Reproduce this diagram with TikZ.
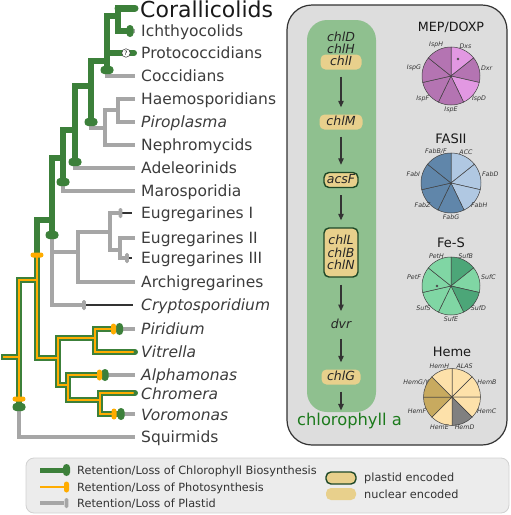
\documentclass[tikz,border=0pt]{standalone}
\usepackage{fontspec}
\setmainfont{DejaVu Sans}
\usetikzlibrary{arrows.meta}
\definecolor{treegreen}{RGB}{60,128,58}
\definecolor{photoorange}{RGB}{255,172,0}
\definecolor{plastgray}{RGB}{166,166,166}
\definecolor{panelgray}{RGB}{221,221,221}
\definecolor{legendgray}{RGB}{236,236,236}
\definecolor{pathgreen}{RGB}{143,192,143}
\definecolor{geneyellow}{RGB}{232,208,140}
\definecolor{genedark}{RGB}{30,72,40}
\definecolor{chlagreen}{RGB}{28,122,28}
\definecolor{taxtext}{RGB}{60,60,60}
\definecolor{mepmid}{RGB}{180,116,178}
\definecolor{meplight}{RGB}{226,152,226}
\definecolor{fasdark}{RGB}{96,134,170}
\definecolor{faslight}{RGB}{176,200,226}
\definecolor{fesdark}{RGB}{76,166,120}
\definecolor{feslight}{RGB}{128,214,164}
\definecolor{hemlight}{RGB}{253,225,170}
\definecolor{hemtan}{RGB}{200,170,95}
\definecolor{hemgray}{RGB}{128,128,128}
\newcommand{\TAXF}[0]{\fontsize{15.5}{18}\selectfont}
\newcommand{\GENEF}[0]{\itshape\fontsize{12.5}{13.5}\selectfont}

\begin{document}
\begin{tikzpicture}[x=1pt, y=-1pt,
  gbr/.style={draw=treegreen, line width=6pt, line cap=rect},
  obr/.style={draw=photoorange, line width=2.2pt, line cap=rect},
  pbr/.style={draw=plastgray, line width=4.5pt, line cap=rect},
  lostbr/.style={draw=black!80, line width=1.2pt},
  taxon/.style={anchor=west, inner sep=0pt, text=taxtext, text height=11.3pt, text depth=0pt, font=\TAXF},
  itaxon/.style={taxon, font=\itshape\TAXF},
  gene/.style={inner sep=1pt, text=black!85, text height=9pt, text depth=2.5pt, font=\GENEF},
  nucbox/.style={gene, fill=geneyellow, rounded corners=5pt, minimum width=41pt, minimum height=15pt},
  plabox/.style={nucbox, draw=genedark, line width=1.4pt, minimum width=34pt},
  patharrow/.style={draw=black!80, line width=1.1pt, -{Triangle[length=6.5pt, width=5.5pt]}, shorten <=7pt, shorten >=7pt},
  pietitle/.style={inner sep=0pt, text=black!90, font=\fontsize{13}{15}\selectfont},
  pielab/.style={inner sep=0.6pt, text=black!80, font=\itshape\fontsize{6.3}{7}\selectfont},
  pieline/.style={draw=black!75, line width=0.5pt},
  legtext/.style={anchor=west, inner sep=0pt, text=black!80, text height=8pt, text depth=0pt, font=\fontsize{11.3}{13}\selectfont}]

  \useasboundingbox (0,0) rectangle (511,515);

  \newcommand\GCapV[2]{\fill[treegreen, rounded corners=3.5pt] (#1,#2) +(-6.5,-4) rectangle +(6.5,4);}
  \newcommand\GCapH[2]{\fill[treegreen, rounded corners=3.5pt] (#1,#2) +(-3.5,-6) rectangle +(3.5,6);}
  \newcommand\OCapV[2]{\fill[photoorange, rounded corners=2.5pt] (#1,#2) +(-6.5,-2.5) rectangle +(6.5,2.5);}
  \newcommand\OCapH[2]{\fill[photoorange, rounded corners=2.5pt] (#1,#2) +(-2.5,-5.5) rectangle +(2.5,5.5);}
  \newcommand\PCapH[2]{\fill[plastgray, rounded corners=1.5pt] (#1,#2) +(-1.8,-5) rectangle +(1.8,5);}

  %% right panel
  \draw[fill=panelgray, draw=black!80, line width=1.2pt, rounded corners=25pt] (287,5) rectangle (507,445);
  \fill[pathgreen, rounded corners=20pt] (307,20) rectangle (376,412);

  %% plastid branches
  \draw[pbr] (19,407) -- (19,437) -- (133,437); % Squirmids
  \draw[pbr] (52,235) -- (52,305) -- (82,305);  % Cryptosporidium
  \draw[pbr] (52,252) -- (78,252);
  \draw[pbr] (78,232) -- (78,282) -- (133,282); % Archigregarines
  \draw[pbr] (78,232) -- (110,232);
  \draw[pbr] (110,213) -- (110,250);
  \draw[pbr] (110,213) -- (119,213);
  \draw[pbr] (110,250) -- (120,250);
  \draw[pbr] (120,238) -- (120,258);
  \draw[pbr] (120,238) -- (133,238);
  \draw[pbr] (120,258) -- (126,258);
  \draw[pbr] (63,182) -- (63,191) -- (133,191); % Marosporidia
  \draw[pbr] (75,162) -- (75,168) -- (133,168); % Adeleorinids
  \draw[pbr] (91,122) -- (91,128) -- (105,128);
  \draw[pbr] (105,110) -- (105,145) -- (133,145); % Nephromycids
  \draw[pbr] (105,110) -- (118,110);
  \draw[pbr] (118,99) -- (118,122);
  \draw[pbr] (118,99) -- (133,99);
  \draw[pbr] (118,122) -- (133,122);
  \draw[pbr] (107,70) -- (107,76) -- (133,76); % Coccidians
  \draw[pbr] (130,31) -- (133,31);
  \draw[pbr] (119,329) -- (133,329);
  \draw[pbr] (105,375) -- (133,375);
  \draw[pbr] (121,414) -- (133,414);

  \draw[lostbr] (84,305) -- (133,305);
  \draw[lostbr] (120,213) -- (132,213);
  \draw[lostbr] (127,258) -- (132,258);

  %% chlorophyll branches
  \draw[gbr] (4,357) -- (19,357);
  \draw[gbr] (19,280) -- (19,407);
  \draw[gbr] (19,280) -- (37,280);
  \draw[gbr] (37,220) -- (37,358);
  \draw[gbr] (37,358) -- (58,358);
  \draw[gbr] (58,338) -- (58,385);
  \draw[gbr] (58,338) -- (95,338);
  \draw[gbr] (95,329) -- (95,352);
  \draw[gbr] (95,329) -- (119,329);
  \draw[gbr, line cap=round] (95,352) -- (135,352); % Vitrella
  \draw[gbr] (58,385) -- (68,385);
  \draw[gbr] (68,375) -- (68,400);
  \draw[gbr] (68,375) -- (105,375);
  \draw[gbr] (68,400) -- (100,400);
  \draw[gbr] (100,393) -- (100,414);
  \draw[gbr, line cap=round] (100,393) -- (135,393); % Chromera
  \draw[gbr] (100,414) -- (121,414);

  \draw[gbr] (37,220) -- (52,220);
  \draw[gbr] (52,158) -- (52,235);
  \draw[gbr] (52,158) -- (63,158);
  \draw[gbr] (63,130) -- (63,182);
  \draw[gbr] (63,130) -- (75,130);
  \draw[gbr] (75,86) -- (75,162);
  \draw[gbr] (75,86) -- (91,86);
  \draw[gbr] (91,61) -- (91,122);
  \draw[gbr] (91,61) -- (107,61);
  \draw[gbr] (107,16) -- (107,70);
  \draw[gbr, line cap=round] (107,53) -- (134,53); % Protococcidians
  \draw[gbr] (107,16) -- (118,16);
  \draw[gbr] (118,8) -- (118,31);
  \draw[gbr] (118,31) -- (130,31);
  \draw[gbr, line width=7pt, line cap=round] (118,8) -- (135,8); % Corallicolids

  %% photosynthesis branches
  \draw[obr] (4,357) -- (19,357);
  \draw[obr] (19,280) -- (19,398);
  \draw[obr] (19,280) -- (37,280);
  \draw[obr] (37,255) -- (37,358);
  \draw[obr] (37,358) -- (58,358);
  \draw[obr] (58,338) -- (58,385);
  \draw[obr] (58,338) -- (95,338);
  \draw[obr] (95,329) -- (95,352);
  \draw[obr] (95,329) -- (113,329);
  \draw[obr, line cap=round] (95,352) -- (133,352);
  \draw[obr] (58,385) -- (68,385);
  \draw[obr] (68,375) -- (68,400);
  \draw[obr] (68,375) -- (99,375);
  \draw[obr] (68,400) -- (100,400);
  \draw[obr] (100,393) -- (100,414);
  \draw[obr, line cap=round] (100,393) -- (133,393);
  \draw[obr] (100,414) -- (113,414);

  %% retention / loss marks
  \GCapV{19}{407} \GCapV{52}{235} \GCapV{63}{182}
  \GCapV{75}{162} \GCapV{91}{122} \GCapV{107}{70}
  \GCapH{130}{31} \GCapH{119.5}{329} \GCapH{105}{375} \GCapH{121}{414}
  \OCapV{19}{399} \OCapV{37}{255}
  \OCapH{113.5}{329} \OCapH{99.5}{375} \OCapH{114}{414}
  \PCapH{84}{305} \PCapH{120.5}{213} \PCapH{127}{258}
  \node[circle, draw=black!80, fill=white, line width=0.5pt, minimum size=8.5pt, inner sep=0pt,
    font=\fontsize{6}{6}\selectfont] (protoq) at (126,53) {?};

  %% taxa
  \node[taxon, text=black!90, text height=16pt, font=\fontsize{22}{24}\selectfont] (cor) at (140,9) {Corallicolids};
  \foreach \nm/\ty/\sty/\tx in {ich/31/taxon/Ichthyocolids, proto/53/taxon/Protococcidians,
      cocc/76/taxon/Coccidians, haem/99/taxon/Haemosporidians, piro/122/itaxon/Piroplasma,
      neph/145/taxon/Nephromycids, adel/168/taxon/Adeleorinids, maro/191/taxon/Marosporidia,
      eugi/213/taxon/Eugregarines I, eugii/238/taxon/Eugregarines II, eugiii/258/taxon/Eugregarines III,
      arch/282/taxon/Archigregarines, crypt/305/itaxon/Cryptosporidium, piri/329/itaxon/Piridium,
      vitr/352/itaxon/Vitrella, alph/375/itaxon/Alphamonas, chro/394/itaxon/Chromera,
      voro/415/itaxon/Voromonas, squi/437/taxon/Squirmids}
    \node[\sty] (\nm) at (141,\ty) {\tx};

  %% chlorophyll pathway
  \node[gene] (chlD) at (341,38) {chlD};
  \node[gene] (chlH) at (341,50) {chlH};
  \node[nucbox] (chlI) at (341,62) {chlI};
  \node[nucbox, minimum width=43pt] (chlM) at (341,122) {chlM};
  \node[plabox] (acsF) at (341,180) {acsF};
  \node[plabox, minimum height=49pt, align=center, text height=, text depth=] (chlLBN) at (341,252.5) {chlL\\[-1.2pt]chlB\\[-1.2pt]chlN};
  \node[gene] (dvr) at (341,325) {dvr};
  \node[nucbox, minimum width=39pt] (chlG) at (341,377) {chlG};
  \node[anchor=base, inner sep=0pt, text=chlagreen, font=\fontsize{16.3}{18}\selectfont] (chla) at (349.5,425) {chlorophyll a};

  \draw[patharrow] (chlI) -- (chlM);
  \draw[patharrow] (chlM) -- (acsF);
  \draw[patharrow] (acsF) -- (chlLBN);
  \draw[patharrow] (chlLBN) -- (dvr);
  \draw[patharrow] (dvr) -- (chlG);
  \draw[patharrow, shorten >=2pt] (chlG) -- (chlG |- chla.north);

  %% pies
  \node[pietitle, font=\fontsize{12.7}{15}\selectfont] (meptitle) at (451,27) {MEP/DOXP};
  \foreach \nm/\col [count=\i from 0] in {Dxs/meplight, Dxr/mepmid, IspD/meplight, IspE/mepmid,
      IspF/mepmid, IspG/mepmid, IspH/mepmid} {
    \pgfmathsetmacro\a{-90+\i*360/7}
    \pgfmathsetmacro\b{\a+360/7}
    \pgfmathsetmacro\m{(\a+\b)/2}
    \pgfmathsetmacro\n{180-\m}
    \filldraw[pieline, fill=\col] (451,76) -- ++(\a:29) arc[start angle=\a, end angle=\b, radius=29] -- cycle;
    \path (451,76) ++(\m:30) node[pielab, anchor=\n] (mep\i) {\nm};
  }
  \fill[black!70] (458,59) circle[radius=1.3pt];

  \node[pietitle] (fastitle) at (451,139) {FASII};
  \foreach \nm/\col [count=\i from 0] in {ACC/faslight, FabD/faslight, FabH/faslight, FabG/fasdark,
      FabZ/fasdark, FabI/fasdark, FabB\slash F/fasdark} {
    \pgfmathsetmacro\a{-90+\i*360/7}
    \pgfmathsetmacro\b{\a+360/7}
    \pgfmathsetmacro\m{(\a+\b)/2}
    \pgfmathsetmacro\n{180-\m}
    \filldraw[pieline, fill=\col] (451,183) -- ++(\a:30) arc[start angle=\a, end angle=\b, radius=30] -- cycle;
    \path (451,183) ++(\m:31) node[pielab, anchor=\n] (fas\i) {\nm};
  }

  \node[pietitle] (festitle) at (451,243) {Fe-S};
  \foreach \nm/\col [count=\i from 0] in {SufB/fesdark, SufC/feslight, SufD/fesdark, SufE/feslight,
      SufS/feslight, PetF/feslight, PetH/feslight} {
    \pgfmathsetmacro\a{-90+\i*360/7}
    \pgfmathsetmacro\b{\a+360/7}
    \pgfmathsetmacro\m{(\a+\b)/2}
    \pgfmathsetmacro\n{180-\m}
    \filldraw[pieline, fill=\col] (451,286) -- ++(\a:29) arc[start angle=\a, end angle=\b, radius=29] -- cycle;
    \path (451,286) ++(\m:30) node[pielab, anchor=\n] (fes\i) {\nm};
  }
  \fill[black!70] (437,286) circle[radius=1.3pt];

  \node[pietitle] (hemtitle) at (452,352) {Heme};
  \foreach \nm/\col [count=\i from 0] in {ALAS/hemlight, HemB/hemlight, HemC/hemlight, HemD/hemgray,
      HemE/hemlight, HemF/hemtan, HemG\slash Y/hemtan, HemH/hemlight} {
    \pgfmathsetmacro\a{-90+\i*45}
    \pgfmathsetmacro\b{\a+45}
    \pgfmathsetmacro\m{(\a+\b)/2}
    \pgfmathsetmacro\n{180-\m}
    \filldraw[pieline, fill=\col] (452,397) -- ++(\a:28.5) arc[start angle=\a, end angle=\b, radius=28.5] -- cycle;
    \path (452,397) ++(\m:29.5) node[pielab, anchor=\n] (hem\i) {\nm};
  }

  %% legend
  \draw[fill=legendgray, draw=black!18, line width=0.8pt, rounded corners=8pt] (26,458) rectangle (509,513);
  \draw[gbr, line cap=butt, line width=5pt] (40,470) -- (64,470);
  \draw[obr, line cap=butt] (40,487) -- (64,487);
  \draw[pbr, line cap=butt] (40,503) -- (64,503);
  \GCapH{66.5}{470} \OCapH{66.5}{487} \PCapH{66.5}{503}
  \node[legtext] (legchl) at (77,470) {Retention/Loss of Chlorophyll Biosynthesis};
  \node[legtext] (legphoto) at (77,487) {Retention/Loss of Photosynthesis};
  \node[legtext] (legplast) at (77,503) {Retention/Loss of Plastid};
  \node[fill=geneyellow, draw=genedark, line width=1.4pt, rounded corners=5pt, minimum width=30pt,
    minimum height=12pt, inner sep=0pt] (legpbox) at (341,478) {};
  \node[fill=geneyellow, rounded corners=5pt, minimum width=30pt, minimum height=12pt,
    inner sep=0pt] (legnbox) at (341,494) {};
  \node[legtext] (legptext) at (364,477) {plastid encoded};
  \node[legtext] (legntext) at (364,494) {nuclear encoded};

\end{tikzpicture}
\end{document}
